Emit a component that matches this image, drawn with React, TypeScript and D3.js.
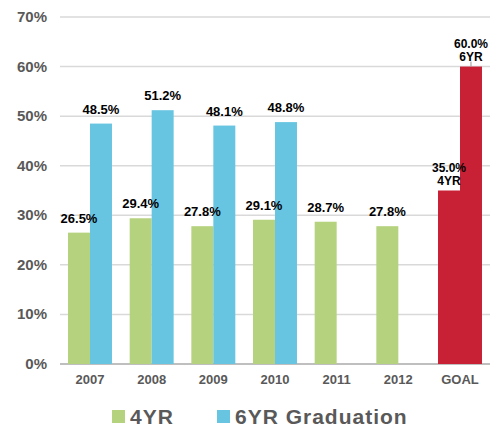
import React, { useEffect, useRef } from 'react'
import * as d3 from 'd3'

const categories = ['2007', '2008', '2009', '2010', '2011', '2012', 'GOAL']
const fourYr: (number | null)[] = [26.5, 29.4, 27.8, 29.1, 28.7, 27.8, 35.0]
const sixYr: (number | null)[] = [48.5, 51.2, 48.1, 48.8, null, null, 60.0]
const yTicks = [0, 10, 20, 30, 40, 50, 60, 70]
const legendLabels = ['4YR', '6YR Graduation']

const GREEN = '#b5d27e'
const BLUE = '#68c5e2'
const RED = '#c82034'
const GREY = '#595959'
const FONT = '"Liberation Sans", Arial, sans-serif'

export default function App() {
  const svgRef = useRef<SVGSVGElement>(null)

  useEffect(() => {
    const svg = d3.select(svgRef.current)
    svg.selectAll('*').remove()

    const width = 503
    const height = 427
    const left = 60
    const right = 490
    const top = 17
    const bottom = 364

    svg.attr('width', width).attr('height', height).style('font-family', FONT)

    const x = d3.scaleBand<string>()
      .domain(categories)
      .range([left, right])
      .paddingInner(0.287)
      .paddingOuter(0.13)
    const sub = d3.scaleBand<string>()
      .domain(['4', '6'])
      .range([0, x.bandwidth()])
    const y = d3.scaleLinear().domain([0, 70]).range([bottom, top])

    // gridlines
    svg.append('g')
      .selectAll('line')
      .data(yTicks.filter(t => t > 0))
      .join('line')
      .attr('x1', left).attr('x2', right)
      .attr('y1', d => y(d)).attr('y2', d => y(d))
      .attr('stroke', '#d9d9d9')
      .attr('stroke-width', 1.5)

    svg.append('line')
      .attr('x1', left).attr('x2', right)
      .attr('y1', y(0)).attr('y2', y(0))
      .attr('stroke', '#bfbfbf')
      .attr('stroke-width', 2)

    // y labels
    svg.append('g')
      .selectAll('text')
      .data(yTicks)
      .join('text')
      .attr('x', 47)
      .attr('y', d => y(d) + 5)
      .attr('text-anchor', 'end')
      .attr('font-size', 15)
      .attr('font-weight', 'bold')
      .attr('fill', GREY)
      .text(d => `${d}%`)

    // x labels
    svg.append('g')
      .selectAll('text')
      .data(categories)
      .join('text')
      .attr('x', d => (x(d) as number) + x.bandwidth() / 2)
      .attr('y', 384)
      .attr('text-anchor', 'middle')
      .attr('font-size', 13)
      .attr('font-weight', 'bold')
      .attr('fill', GREY)
      .text(d => d)

    const bars = categories.flatMap((c, i) => [
      { c, k: '4', v: fourYr[i] },
      { c, k: '6', v: sixYr[i] },
    ]).filter(d => d.v !== null) as { c: string, k: string, v: number }[]

    const color = (d: { c: string, k: string }) =>
      d.c === 'GOAL' ? RED : d.k === '4' ? GREEN : BLUE

    svg.append('g')
      .selectAll('rect')
      .data(bars)
      .join('rect')
      .attr('x', d => (x(d.c) as number) + (sub(d.k) as number))
      .attr('width', sub.bandwidth())
      .attr('y', d => y(d.v))
      .attr('height', d => y(0) - y(d.v))
      .attr('fill', color)

    // value labels
    const cx = (d: { c: string, k: string }) =>
      (x(d.c) as number) + (sub(d.k) as number) + sub.bandwidth() / 2

    const labels = svg.append('g')
      .attr('font-size', 13)
      .attr('font-weight', 'bold')
      .attr('fill', '#000')
      .attr('text-anchor', 'middle')

    bars.forEach(d => {
      if (d.c !== 'GOAL') {
        labels.append('text')
          .attr('x', cx(d))
          .attr('y', y(d.v) - 10)
          .text(`${d.v.toFixed(1)}%`)
      } else {
        // two-line goal labels, slightly smaller so the lines don't collide
        const tag = d.k === '4' ? '4YR' : '6YR'
        const off = 6
        labels.append('text')
          .attr('x', cx(d))
          .attr('y', y(d.v) - off - 13)
          .attr('font-size', 12)
          .text(`${d.v.toFixed(1)}%`)
        labels.append('text')
          .attr('x', cx(d))
          .attr('y', y(d.v) - off)
          .attr('font-size', 12)
          .text(tag)
        if (d.k === '6') {
          labels.append('line')
            .attr('x1', cx(d)).attr('x2', cx(d))
            .attr('y1', y(d.v) - 5).attr('y2', y(d.v))
            .attr('stroke', '#999')
            .attr('stroke-width', 1)
        }
      }
    })

    // legend
    const legend = svg.append('g')
    const legendX = [112, 217]
    legendLabels.forEach((l, i) => {
      legend.append('rect')
        .attr('x', legendX[i]).attr('y', 410)
        .attr('width', 13).attr('height', 13)
        .attr('fill', i === 0 ? GREEN : BLUE)
      legend.append('text')
        .attr('x', legendX[i] + 18)
        .attr('y', 424)
        .attr('font-size', 21)
        .attr('font-weight', 'bold')
        .attr('letter-spacing', 1)
        .attr('fill', GREY)
        .text(l)
    })
  }, [])

  return (
    <svg ref={svgRef} style={{ position: 'absolute', left: 0, top: 0 }} />
  )
}
